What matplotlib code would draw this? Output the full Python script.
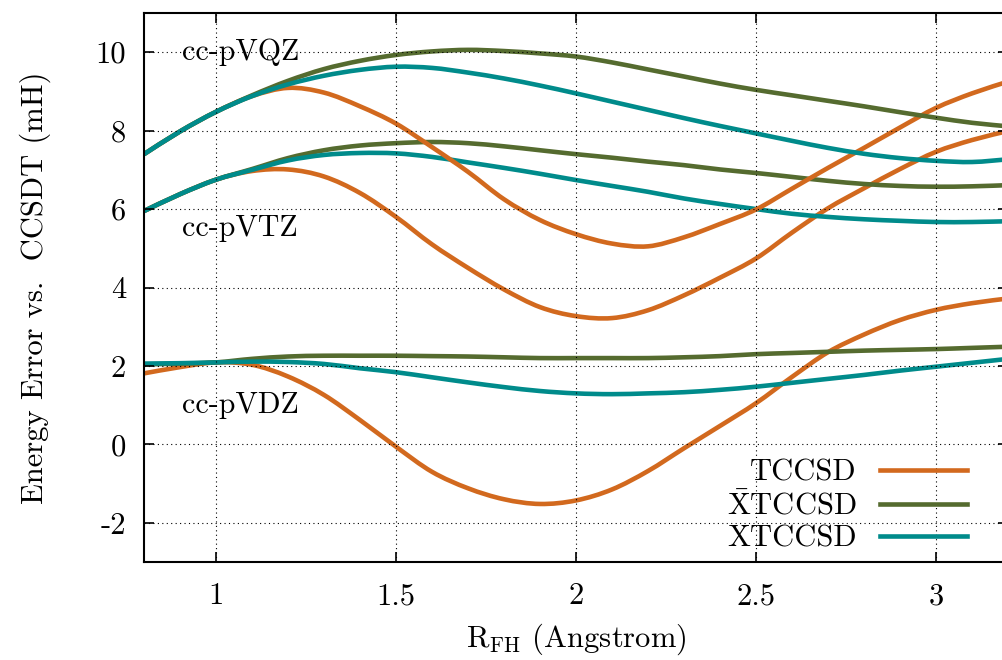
import numpy as np
import matplotlib
matplotlib.use("Agg")
import matplotlib.pyplot as plt
from matplotlib.path import Path
from matplotlib.patches import PathPatch

plt.rcParams["font.family"] = "serif"
plt.rcParams["font.serif"] = ["cmr10", "DejaVu Serif"]
plt.rcParams["mathtext.fontset"] = "cm"
plt.rcParams["axes.unicode_minus"] = False

# bond length grid (Angstrom)
r = [0.8, 0.9, 1.0, 1.1, 1.2, 1.3, 1.4, 1.5, 1.6, 1.7, 1.8, 1.9, 2.0,
     2.1, 2.2, 2.3, 2.4, 2.5, 2.6, 2.7, 2.8, 2.9, 3.0, 3.1, 3.2]

# energy errors vs CCSDT (mH)
dz_tccsd = [1.81, 1.97, 2.09, 2.03, 1.73, 1.26, 0.62, -0.06, -0.70, -1.12, -1.40, -1.52, -1.43,
            -1.15, -0.68, -0.10, 0.47, 1.05, 1.72, 2.35, 2.80, 3.17, 3.43, 3.60, 3.72]
dz_xbar = [2.04, 2.06, 2.09, 2.18, 2.24, 2.26, 2.26, 2.26, 2.25, 2.24, 2.22, 2.20, 2.20,
           2.20, 2.20, 2.22, 2.25, 2.30, 2.33, 2.36, 2.39, 2.41, 2.43, 2.46, 2.49]
dz_xtccsd = [2.06, 2.07, 2.09, 2.11, 2.10, 2.05, 1.94, 1.84, 1.71, 1.58, 1.46, 1.36, 1.30,
             1.28, 1.30, 1.33, 1.39, 1.47, 1.57, 1.67, 1.77, 1.88, 1.98, 2.08, 2.18]

tz_tccsd = [5.95, 6.38, 6.75, 6.97, 7.01, 6.83, 6.41, 5.80, 5.10, 4.50, 3.95, 3.50, 3.27,
            3.22, 3.42, 3.80, 4.25, 4.74, 5.40, 6.02, 6.53, 7.02, 7.46, 7.76, 7.99]
tz_xbar = [5.95, 6.38, 6.75, 7.02, 7.30, 7.50, 7.62, 7.68, 7.71, 7.68, 7.60, 7.50, 7.40,
           7.31, 7.21, 7.12, 7.01, 6.92, 6.82, 6.72, 6.64, 6.59, 6.57, 6.58, 6.61]
tz_xtccsd = [5.95, 6.38, 6.75, 7.00, 7.24, 7.38, 7.43, 7.42, 7.33, 7.19, 7.05, 6.90, 6.74,
             6.59, 6.44, 6.27, 6.13, 6.00, 5.88, 5.80, 5.74, 5.70, 5.67, 5.67, 5.69]

qz_tccsd = [7.40, 7.98, 8.48, 8.88, 9.09, 8.97, 8.62, 8.18, 7.58, 6.95, 6.25, 5.72, 5.36,
            5.12, 5.05, 5.28, 5.62, 5.99, 6.52, 7.05, 7.56, 8.08, 8.58, 8.95, 9.25]
qz_xbar = [7.40, 7.98, 8.48, 8.90, 9.27, 9.57, 9.78, 9.93, 10.02, 10.06, 10.03, 9.97, 9.89,
           9.74, 9.56, 9.38, 9.20, 9.04, 8.90, 8.76, 8.62, 8.47, 8.33, 8.20, 8.11]
qz_xtccsd = [7.40, 7.98, 8.48, 8.88, 9.18, 9.40, 9.55, 9.63, 9.60, 9.48, 9.33, 9.15, 8.95,
             8.74, 8.53, 8.32, 8.12, 7.93, 7.74, 7.56, 7.41, 7.30, 7.23, 7.20, 7.27]

c_t = "#d2691e"
c_xb = "#556b2f"
c_x = "#008b8b"
lw = 3.3


def smooth_curve(ax, x, y, color):
    # cubic bezier through the points (like gnuplot's smooth csplines look)
    x = np.asarray(x, float)
    y = np.asarray(y, float)
    xp = np.concatenate([[x[0]], x, [x[-1]]])
    yp = np.concatenate([[y[0]], y, [y[-1]]])
    verts = [(x[0], y[0])]
    codes = [Path.MOVETO]
    for i in range(len(x) - 1):
        j = i + 1
        c1 = (xp[j] + (xp[j + 1] - xp[j - 1]) / 6, yp[j] + (yp[j + 1] - yp[j - 1]) / 6)
        c2 = (xp[j + 1] - (xp[j + 2] - xp[j]) / 6, yp[j + 1] - (yp[j + 2] - yp[j]) / 6)
        verts += [c1, c2, (x[i + 1], y[i + 1])]
        codes += [Path.CURVE4] * 3
    ax.add_patch(PathPatch(Path(verts, codes), fill=False, edgecolor=color,
                           lw=lw, capstyle="butt", joinstyle="round"))


fig = plt.figure(figsize=(10.02, 6.6), dpi=100)
ax = fig.add_axes([144/1002, 98/660, 864/1002, 549/660])

for t, xb, x in [(dz_tccsd, dz_xbar, dz_xtccsd),
                 (tz_tccsd, tz_xbar, tz_xtccsd),
                 (qz_tccsd, qz_xbar, qz_xtccsd)]:
    smooth_curve(ax, r, t, c_t)
    smooth_curve(ax, r, xb, c_xb)
    smooth_curve(ax, r, x, c_x)

# legend handles only
ax.plot([], [], color=c_t, lw=lw, label="TCCSD")
ax.plot([], [], color=c_xb, lw=lw, label=r"$\bar{\mathrm{X}}$TCCSD")
ax.plot([], [], color=c_x, lw=lw, label="XTCCSD")
ax.legend(loc="lower right", bbox_to_anchor=(0.977, -0.022),
          markerfirst=False, frameon=False, fontsize=22, handlelength=2.85,
          handletextpad=0.75, labelspacing=0.14, borderaxespad=0.3)

ax.text(0.905, 10.0, "cc-pVQZ", fontsize=21.5, va="center")
ax.text(0.905, 5.5, "cc-pVTZ", fontsize=21.5, va="center")
ax.text(0.905, 1.0, "cc-pVDZ", fontsize=21.5, va="center")

ax.set_xlim(0.8, 3.2)
ax.set_ylim(-3, 11)
ax.set_xticks([1, 1.5, 2, 2.5, 3])
ax.set_xticklabels(["1", "1.5", "2", "2.5", "3"])
ax.set_yticks([-2, 0, 2, 4, 6, 8, 10])
ax.set_yticklabels(["-2", "0", "2", "4", "6", "8", "10"])
ax.tick_params(direction="in", length=7, width=1.2, top=True, right=True,
               labelsize=22)
ax.tick_params(axis="x", pad=15)
ax.tick_params(axis="y", pad=13)
ax.grid(True, color="black", linestyle=(0, (1, 3)), linewidth=0.8)
for s in ax.spines.values():
    s.set_linewidth(1.5)

ax.set_xlabel(r"R$_{\mathrm{FH}}$ (Angstrom)", fontsize=22, labelpad=8)
ax.set_ylabel("Energy Error vs.  CCSDT (mH)", fontsize=22, labelpad=32)

fig.savefig("out.png", dpi=100)
